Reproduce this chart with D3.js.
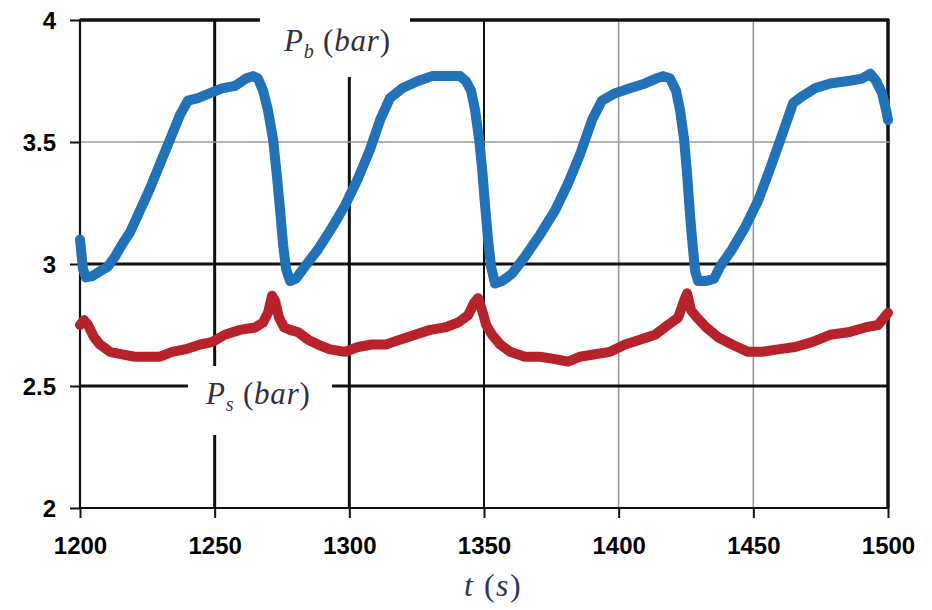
<!DOCTYPE html>
<html>
<head>
<meta charset="utf-8">
<script src="https://cdn.jsdelivr.net/npm/d3@7"></script>
<style>
  html, body { margin: 0; padding: 0; background: #fff; }
  svg { display: block; }
</style>
</head>
<body>
<svg id="chart" width="932" height="610"></svg>
<script>
// Time axis ticks and pressure axis ticks
const xTicks = [1200, 1250, 1300, 1350, 1400, 1450, 1500];
const yTicks = [2, 2.5, 3, 3.5, 4];

// Boiler pressure P_b (bar) over time
const tB = [1200, 1201.1, 1202.2, 1204.5, 1207.4, 1210.4, 1213, 1215.6, 1218.6, 1222.3, 1226, 1229.7, 1233.4, 1237.1, 1240.1, 1243.8, 1248.3, 1252.7, 1257.6, 1261.6, 1264.2, 1266.1, 1268, 1269.8, 1271.7, 1273.2, 1274.3, 1275.4, 1276.5, 1278, 1280.2, 1283.5, 1288.4, 1293.6, 1298.4, 1303.2, 1307.7, 1311.4, 1315.1, 1319.6, 1325.5, 1330.7, 1335.5, 1341.1, 1343.3, 1345.2, 1346.7, 1348.2, 1349.3, 1350.4, 1351.5, 1352.6, 1354.1, 1356.7, 1360.4, 1365.2, 1370.8, 1376.4, 1381.2, 1385.7, 1390.1, 1393.8, 1398.7, 1404.2, 1409.8, 1413.9, 1416.5, 1419.1, 1421.3, 1422.8, 1424.3, 1425.4, 1426.5, 1427.6, 1428.4, 1429.5, 1432.5, 1435.4, 1437.7, 1442.1, 1446.9, 1451.8, 1456.2, 1460.7, 1464.8, 1468.5, 1472.9, 1478.5, 1485.2, 1490.4, 1493.4, 1495.6, 1497.8, 1499.3, 1500];
const pB = [3.10, 2.98, 2.945, 2.95, 2.97, 2.99, 3.03, 3.08, 3.13, 3.22, 3.31, 3.41, 3.51, 3.61, 3.67, 3.68, 3.70, 3.72, 3.73, 3.76, 3.77, 3.76, 3.71, 3.63, 3.51, 3.35, 3.22, 3.08, 2.98, 2.93, 2.94, 2.99, 3.06, 3.15, 3.24, 3.35, 3.47, 3.59, 3.68, 3.72, 3.75, 3.77, 3.77, 3.77, 3.75, 3.71, 3.63, 3.51, 3.39, 3.24, 3.10, 2.99, 2.92, 2.93, 2.96, 3.03, 3.12, 3.22, 3.33, 3.45, 3.59, 3.67, 3.70, 3.72, 3.74, 3.76, 3.77, 3.76, 3.71, 3.63, 3.51, 3.37, 3.20, 3.06, 2.97, 2.93, 2.93, 2.94, 2.99, 3.06, 3.15, 3.26, 3.39, 3.53, 3.66, 3.69, 3.72, 3.74, 3.75, 3.76, 3.78, 3.75, 3.70, 3.63, 3.59];

// Steam pressure P_s (bar) over time
const tS = [1200, 1201.5, 1203, 1205.2, 1207.4, 1211.1, 1215.6, 1220.4, 1225.3, 1229.7, 1234.2, 1239, 1244.6, 1249, 1253.8, 1259.4, 1265, 1268, 1269.8, 1271.3, 1272.4, 1273.9, 1275.8, 1278, 1281, 1284.7, 1288.4, 1292.8, 1298.4, 1303.2, 1308.4, 1313.6, 1318.8, 1324.4, 1330, 1335.5, 1340.4, 1344.1, 1346.3, 1347.8, 1349.3, 1350.8, 1353, 1356, 1359.7, 1365.2, 1370.8, 1376.4, 1381.2, 1385.7, 1391.2, 1396.8, 1402.4, 1407.9, 1413.5, 1418.3, 1422.1, 1424.3, 1425.4, 1426.9, 1429.1, 1432.5, 1436.9, 1442.1, 1448, 1453.2, 1459.2, 1465.5, 1471.8, 1478.5, 1485.2, 1491.5, 1496.3, 1500];
const pS = [2.75, 2.77, 2.75, 2.70, 2.67, 2.64, 2.63, 2.62, 2.62, 2.62, 2.64, 2.65, 2.67, 2.68, 2.71, 2.73, 2.74, 2.76, 2.80, 2.87, 2.85, 2.78, 2.74, 2.73, 2.72, 2.69, 2.67, 2.65, 2.64, 2.66, 2.67, 2.67, 2.69, 2.71, 2.73, 2.74, 2.76, 2.79, 2.84, 2.86, 2.81, 2.75, 2.71, 2.67, 2.64, 2.62, 2.62, 2.61, 2.60, 2.62, 2.63, 2.64, 2.67, 2.69, 2.71, 2.75, 2.78, 2.85, 2.88, 2.81, 2.78, 2.74, 2.70, 2.67, 2.64, 2.64, 2.65, 2.66, 2.68, 2.71, 2.72, 2.74, 2.75, 2.80];

const svg = d3.select("#chart");
const plotLeft = 80, plotRight = 888, plotTop = 20, plotBottom = 508;

const x = d3.scaleLinear().domain([1200, 1500]).range([plotLeft, plotRight]);
const y = d3.scaleLinear().domain([2, 4]).range([plotBottom, plotTop]);

const BLACK = "#111";
const GRAY = "#9a9a9a";

// Grid: mixed weights (heavy black, medium black, light gray)
function vStyle(v) {
  if (v === 1250 || v === 1300) return { c: BLACK, w: 3 };
  if (v === 1350) return { c: BLACK, w: 2 };
  if (v === 1500) return { c: BLACK, w: 3.5 };
  return { c: GRAY, w: 1.6 };
}
function hStyle(v) {
  if (v === 3.5) return { c: GRAY, w: 1.6 };
  if (v === 4) return { c: BLACK, w: 3.5 };
  return { c: BLACK, w: 3 };
}

const grid = svg.append("g");
grid.selectAll("line.v").data(xTicks.filter(d => d > 1200)).join("line")
  .attr("class", "v")
  .attr("x1", d => x(d)).attr("x2", d => x(d))
  .attr("y1", y(4) - 1).attr("y2", y(2))
  .attr("stroke", d => vStyle(d).c).attr("stroke-width", d => vStyle(d).w);
grid.selectAll("line.h").data(yTicks.filter(d => d > 2)).join("line")
  .attr("class", "h")
  .attr("x1", x(1200)).attr("x2", x(1500) + 1)
  .attr("y1", d => y(d)).attr("y2", d => y(d))
  .attr("stroke", d => hStyle(d).c).attr("stroke-width", d => hStyle(d).w);

// Label boxes clear the grid behind the series labels
svg.append("rect").attr("x", 260).attr("y", 8).attr("width", 150).attr("height", 69).attr("fill", "#fff");
svg.append("rect").attr("x", 188).attr("y", 366).attr("width", 144).attr("height", 69).attr("fill", "#fff");

// Axes
const minorY = d3.range(2, 4.001, 0.1).map(v => +v.toFixed(1)).filter(v => !yTicks.includes(v));
const minorX = d3.range(1200, 1501, 10).filter(v => !xTicks.includes(v));

const axisFont = "'Liberation Sans', Arial, sans-serif";

const gy = svg.append("g").attr("transform", `translate(${plotLeft},0)`);
gy.call(d3.axisLeft(y).tickValues(minorY).tickSize(7).tickFormat(""));
gy.call(d3.axisLeft(y).tickValues(yTicks).tickSize(10).tickFormat(d3.format("")).tickPadding(14));
gy.select(".domain").remove();
gy.selectAll("line").attr("stroke", BLACK).attr("stroke-width", 2);
gy.selectAll("text")
  .attr("font-family", axisFont).attr("font-weight", "bold").attr("font-size", 24)
  .attr("fill", "#000").attr("dy", "0.36em");

const gx = svg.append("g").attr("transform", `translate(0,${plotBottom})`);
gx.call(d3.axisBottom(x).tickValues(minorX).tickSize(8).tickFormat(""));
gx.call(d3.axisBottom(x).tickValues(xTicks).tickSize(10).tickFormat(d3.format("")).tickPadding(14));
gx.select(".domain").remove();
gx.selectAll("line").attr("stroke", BLACK).attr("stroke-width", 2);
gx.selectAll("text")
  .attr("font-family", axisFont).attr("font-weight", "bold").attr("font-size", 24)
  .attr("fill", "#000").attr("dy", "0.9em");

// Axis lines
svg.append("line").attr("x1", plotLeft).attr("x2", plotLeft).attr("y1", plotTop - 1).attr("y2", plotBottom + 1)
  .attr("stroke", BLACK).attr("stroke-width", 2.2);
svg.append("line").attr("x1", plotLeft - 1).attr("x2", plotRight + 1).attr("y1", plotBottom).attr("y2", plotBottom)
  .attr("stroke", BLACK).attr("stroke-width", 2.2);

// Series
const line = d3.line().x(d => x(d[0])).y(d => y(d[1]));
svg.append("path").datum(d3.zip(tS, pS))
  .attr("d", line).attr("fill", "none").attr("stroke", "#b8232b")
  .attr("stroke-width", 10).attr("stroke-linejoin", "round").attr("stroke-linecap", "round");
svg.append("path").datum(d3.zip(tB, pB))
  .attr("d", line).attr("fill", "none").attr("stroke", "#2172b8")
  .attr("stroke-width", 10).attr("stroke-linejoin", "round").attr("stroke-linecap", "round");

// Series and axis labels
const serif = "'Liberation Serif', 'Times New Roman', serif";
function seriesLabel(px, py, sub) {
  const t = svg.append("text").attr("x", px).attr("y", py)
    .attr("font-family", serif).attr("font-size", 31).attr("fill", "#352f3c")
    .attr("letter-spacing", 0.8);
  t.append("tspan").attr("font-style", "italic").text("P");
  t.append("tspan").attr("font-style", "italic").attr("font-size", 20).attr("dy", 7).text(sub);
  t.append("tspan").attr("dy", -7).text(" (");
  t.append("tspan").attr("font-style", "italic").text("bar");
  t.append("tspan").text(")");
}
seriesLabel(284, 51, "b");
seriesLabel(206, 404, "s");

const xt = svg.append("text").attr("x", 464).attr("y", 596)
  .attr("font-family", serif).attr("font-size", 32).attr("fill", "#2a3766")
  .attr("letter-spacing", 1.5);
xt.append("tspan").attr("font-style", "italic").text("t");
xt.append("tspan").text(" (");
xt.append("tspan").attr("font-style", "italic").text("s");
xt.append("tspan").text(")");
</script>
</body>
</html>
